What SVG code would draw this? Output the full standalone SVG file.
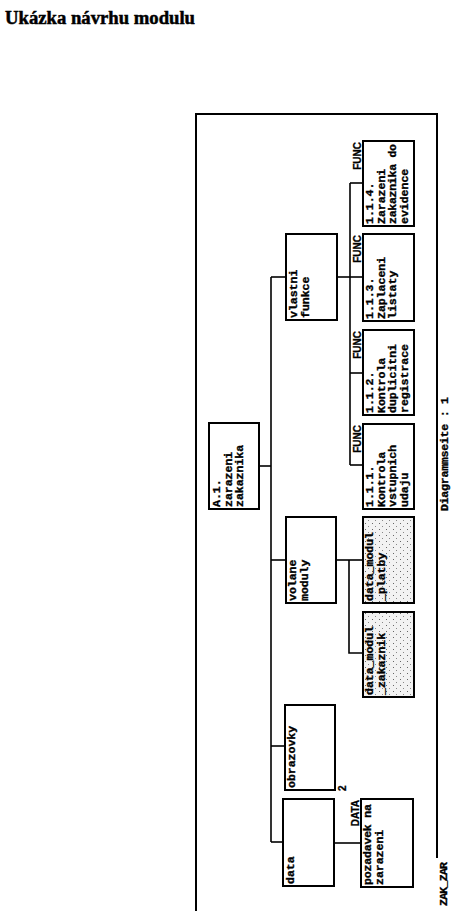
<svg xmlns="http://www.w3.org/2000/svg" width="459" height="911" viewBox="0 0 459 911">
<style>
.bx{fill:#fff;stroke:#000;stroke-width:2}
.st{fill:url(#stip);stroke:#000;stroke-width:2}
.cn{fill:none;stroke:#000;stroke-width:1.6}
.fr{fill:none;stroke:#000;stroke-width:2}
.t{font-family:"Liberation Mono","DejaVu Sans Mono",monospace;font-weight:bold;font-size:11.5px;fill:#000;stroke:#000;stroke-width:0.35}
.lb{font-family:"Liberation Sans","DejaVu Sans",sans-serif;font-weight:bold;font-size:10px;fill:#000;stroke:#000;stroke-width:0.3}
.title{font-family:"Liberation Serif","DejaVu Serif",serif;font-weight:bold;font-size:18.5px;fill:#000;stroke:#000;stroke-width:0.5}
</style>
<defs>
<pattern id="stip" width="7" height="6" patternUnits="userSpaceOnUse">
<rect width="7" height="6" fill="#f2f2f2"/>
<rect x="1" y="1" width="1" height="1" fill="#666"/>
<rect x="4" y="4" width="1" height="1" fill="#888"/>
</pattern>
</defs>
<rect width="459" height="911" fill="#fff"/>
<text class="title" x="5" y="24" textLength="190" lengthAdjust="spacingAndGlyphs">Ukázka návrhu modulu</text>

<g id="frame">
<path class="fr" d="M196,911 V114 H437 V858"/>
<text class="t" transform="translate(448,511) rotate(-90)" textLength="114">Diagrammseite : 1</text>
<text class="t" transform="translate(447,906) rotate(-90)" textLength="44">ZAK_ZAR</text>
</g>

<g id="connectors">
<path class="cn" d="M259,466 H271"/>
<path class="cn" d="M271,277 V842"/>
<path class="cn" d="M271,277 H286"/>
<path class="cn" d="M271,560 H286"/>
<path class="cn" d="M271,746 H285"/>
<path class="cn" d="M271,842 H283"/>
<path class="cn" d="M337,277 H363"/>
<path class="cn" d="M350,183 V465"/>
<path class="cn" d="M350,183 H363"/>
<path class="cn" d="M350,373 H363"/>
<path class="cn" d="M350,465 H363"/>
<path class="cn" d="M336,560 H363"/>
<path class="cn" d="M349,560 V653 H363"/>
<path class="cn" d="M334,843 H361"/>
</g>

<g id="root">
<rect class="bx" x="209" y="423" width="50" height="86"/>
<text class="t" transform="translate(220,507) rotate(-90)">A.1.</text>
<text class="t" transform="translate(231.5,507) rotate(-90)">zarazeni</text>
<text class="t" transform="translate(243,507) rotate(-90)">zakaznika</text>
</g>

<g id="vlastni">
<rect class="bx" x="286" y="234" width="51" height="86"/>
<text class="t" transform="translate(297,318) rotate(-90)">vlastni</text>
<text class="t" transform="translate(308.5,318) rotate(-90)">funkce</text>
</g>

<g id="volane">
<rect class="bx" x="286" y="517" width="50" height="86"/>
<text class="t" transform="translate(296,601) rotate(-90)">volane</text>
<text class="t" transform="translate(307.5,601) rotate(-90)">moduly</text>
</g>

<g id="obrazovky">
<rect class="bx" x="285" y="705" width="50" height="85"/>
<text class="t" transform="translate(295,788) rotate(-90)">obrazovky</text>
<text class="lb" transform="translate(346,791) rotate(-90)">2</text>
</g>

<g id="data">
<rect class="bx" x="283" y="799" width="51" height="87"/>
<text class="t" transform="translate(294,884) rotate(-90)">data</text>
</g>

<g id="f114">
<rect class="bx" x="363" y="141" width="51" height="85"/>
<text class="lb" transform="translate(361,142) rotate(-90)" text-anchor="end">FUNC</text>
<text class="t" transform="translate(373,224) rotate(-90)">1.1.4.</text>
<text class="t" transform="translate(384.5,224) rotate(-90)">Zarazeni</text>
<text class="t" transform="translate(396,224) rotate(-90)" textLength="80">zakaznika do</text>
<text class="t" transform="translate(407.5,224) rotate(-90)">evidence</text>
</g>

<g id="f113">
<rect class="bx" x="363" y="234" width="51" height="87"/>
<text class="lb" transform="translate(361,235) rotate(-90)" text-anchor="end">FUNC</text>
<text class="t" transform="translate(373,319) rotate(-90)">1.1.3.</text>
<text class="t" transform="translate(384.5,319) rotate(-90)">Zaplaceni</text>
<text class="t" transform="translate(396,319) rotate(-90)">listaty</text>
</g>

<g id="f112">
<rect class="bx" x="363" y="330" width="51" height="85"/>
<text class="lb" transform="translate(361,331) rotate(-90)" text-anchor="end">FUNC</text>
<text class="t" transform="translate(373,413) rotate(-90)">1.1.2.</text>
<text class="t" transform="translate(384.5,413) rotate(-90)">Kontrola</text>
<text class="t" transform="translate(396,413) rotate(-90)">duplicitni</text>
<text class="t" transform="translate(407.5,413) rotate(-90)">registrace</text>
</g>

<g id="f111">
<rect class="bx" x="363" y="424" width="51" height="85"/>
<text class="lb" transform="translate(361,425) rotate(-90)" text-anchor="end">FUNC</text>
<text class="t" transform="translate(373,507) rotate(-90)">1.1.1.</text>
<text class="t" transform="translate(384.5,507) rotate(-90)">Kontrola</text>
<text class="t" transform="translate(396,507) rotate(-90)">vstupnich</text>
<text class="t" transform="translate(407.5,507) rotate(-90)">udaju</text>
</g>

<g id="platby">
<rect class="st" x="363" y="517" width="51" height="86"/>
<text class="t" transform="translate(373,601) rotate(-90)">data_modul</text>
<text class="t" transform="translate(384.5,601) rotate(-90)">_platby</text>
</g>

<g id="zakaznik">
<rect class="st" x="363" y="612" width="51" height="85"/>
<text class="t" transform="translate(373,695) rotate(-90)">data_modul</text>
<text class="t" transform="translate(384.5,695) rotate(-90)">_zakaznik</text>
</g>

<g id="pozadavek">
<rect class="bx" x="361" y="799" width="52" height="88"/>
<text class="lb" transform="translate(359,800) rotate(-90)" text-anchor="end">DATA</text>
<text class="t" transform="translate(371,885) rotate(-90)" textLength="81">pozadavek na</text>
<text class="t" transform="translate(382.5,885) rotate(-90)">zarazeni</text>
</g>
</svg>
